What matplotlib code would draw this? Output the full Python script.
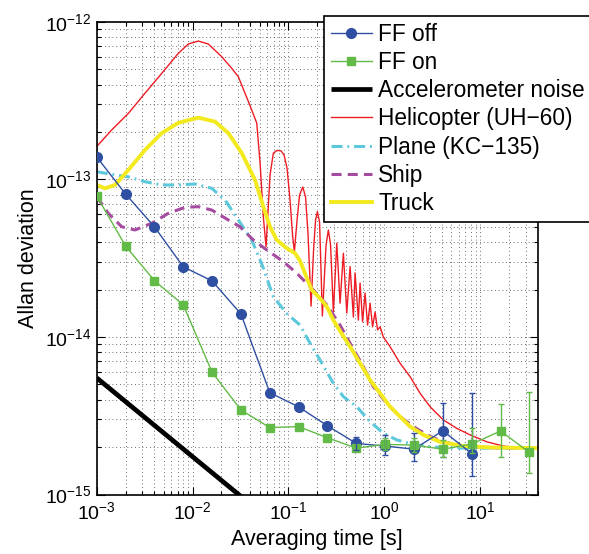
import numpy as np
import matplotlib
matplotlib.use("Agg")
import matplotlib.pyplot as plt
from matplotlib.ticker import LogLocator, NullFormatter, FixedLocator

plt.rcParams['font.family'] = ['Liberation Sans', 'DejaVu Sans']
plt.rcParams['mathtext.fontset'] = 'custom'
plt.rcParams['mathtext.rm'] = 'Liberation Sans'
plt.rcParams['mathtext.it'] = 'Liberation Sans:italic'
plt.rcParams['mathtext.bf'] = 'Liberation Sans:bold'

# ---- measured Allan deviation, feed-forward off / on ----
ff_tau = [0.001, 0.002, 0.004, 0.008, 0.016, 0.032, 0.064, 0.128,
          0.256, 0.512, 1.024, 2.048, 4.096, 8.192, 16.384, 32.768]
ff_off = [1.39e-13, 8.09e-14, 5.01e-14, 2.79e-14, 2.27e-14, 1.40e-14,
          4.43e-15, 3.60e-15, 2.73e-15, 2.11e-15, 2.03e-15, 1.94e-15,
          2.54e-15, 1.82e-15]
ff_on = [7.86e-14, 3.78e-14, 2.28e-14, 1.60e-14, 5.97e-15, 3.44e-15,
         2.66e-15, 2.70e-15, 2.29e-15, 1.97e-15, 2.08e-15, 2.06e-15,
         1.94e-15, 2.09e-15, 2.53e-15, 1.85e-15]

# confidence intervals on the long-tau points
ff_off_err_first = 9
ff_off_err_low = [1.92e-15, 1.78e-15, 1.64e-15, 1.74e-15, 1.32e-15]
ff_off_err_high = [2.33e-15, 2.37e-15, 2.45e-15, 3.79e-15, 4.39e-15]
ff_on_err_first = 10
ff_on_err_low = [1.92e-15, 1.87e-15, 1.72e-15, 1.83e-15, 1.74e-15, 1.36e-15]
ff_on_err_high = [2.27e-15, 2.27e-15, 2.22e-15, 2.63e-15, 3.76e-15, 4.50e-15]

# ---- accelerometer noise floor (white, tau^-1/2) ----
accel_tau = [1e-3, 1e-1]
accel_adev = [5.5e-15, 5.5e-16]

# ---- predicted Allan deviation on moving platforms ----
heli_tau = [1.0e-3, 1.43e-3, 2.14e-3, 3.19e-3, 4.77e-3, 7.11e-3, 9.04e-3,
            1.149e-2, 1.462e-2, 2.017e-2, 2.566e-2, 3.006e-2, 3.53e-2,
            4.15e-2, 4.68e-2, 5.07e-2, 5.48e-2, 5.85e-2, 6.44e-2, 6.97e-2,
            7.62e-2, 8.39e-2, 9.02e-2, 9.69e-2, 0.1041, 0.1106, 0.1155,
            0.1233, 0.1309, 0.1414, 0.1512, 0.1606, 0.1726, 0.1833, 0.1923,
            0.2008, 0.2117, 0.2264, 0.2475, 0.2616, 0.2758, 0.2950, 0.3200,
            0.3465, 0.3751, 0.4070, 0.4406, 0.4770, 0.4969, 0.5379, 0.5602,
            0.5950, 0.6318, 0.6710, 0.7126, 0.7568, 0.8035, 0.8533, 0.9063,
            0.981, 1.152, 1.466, 1.864, 2.370, 3.013, 4.15, 5.73, 7.88,
            11.78, 17.55, 26.2, 40.0]
heli_adev = [1.62e-13, 2.06e-13, 2.63e-13, 3.53e-13, 4.72e-13, 6.33e-13,
             7.25e-13, 7.57e-13, 7.25e-13, 6.02e-13, 5.08e-13, 4.49e-13,
             3.53e-13, 2.76e-13, 2.28e-13, 1.27e-13, 5.80e-14, 3.74e-14,
             1.07e-13, 1.47e-13, 1.53e-13, 1.52e-13, 1.43e-13, 1.18e-13,
             7.41e-14, 4.44e-14, 3.47e-14, 5.53e-14, 7.97e-14, 8.96e-14,
             7.74e-14, 4.44e-14, 1.57e-14, 3.57e-14, 5.53e-14, 6.25e-14,
             5.37e-14, 1.36e-14, 3.84e-14, 4.78e-14, 3.84e-14, 1.44e-14,
             3.94e-14, 1.64e-14, 3.40e-14, 1.42e-14, 2.80e-14, 1.34e-14,
             2.55e-14, 1.28e-14, 2.20e-14, 1.25e-14, 1.90e-14, 1.19e-14,
             1.64e-14, 1.16e-14, 1.44e-14, 1.11e-14, 1.16e-14, 1.00e-14,
             8.68e-15, 6.81e-15, 5.60e-15, 4.39e-15, 3.61e-15, 2.97e-15,
             2.63e-15, 2.39e-15, 2.16e-15, 2.03e-15, 1.98e-15, 1.97e-15]

plane_tau = [1.0e-3, 1.552e-3, 2.14e-3, 3.19e-3, 4.77e-3, 7.11e-3,
             1.062e-2, 1.586e-2, 2.184e-2, 3.006e-2, 4.15e-2, 5.48e-2,
             6.97e-2, 9.62e-2, 0.1325, 0.1685, 0.2142, 0.2950, 0.3751,
             0.5176, 0.7126, 0.981, 1.354, 2.017, 3.013, 4.87, 40.0]
plane_adev = [1.12e-13, 1.07e-13, 1.04e-13, 9.68e-14, 9.23e-14, 9.23e-14,
              9.36e-14, 8.79e-14, 7.41e-14, 5.53e-14, 4.13e-14, 2.74e-14,
              1.80e-14, 1.41e-14, 1.19e-14, 9.12e-15, 7.14e-15, 5.08e-15,
              4.18e-15, 3.61e-15, 2.90e-15, 2.45e-15, 2.22e-15, 2.08e-15,
              2.01e-15, 1.97e-15, 1.97e-15]

ship_tau = [1.0e-3, 1.321e-3, 1.824e-3, 2.51e-3, 3.75e-3, 5.59e-3, 8.35e-3,
            1.149e-2, 1.586e-2, 2.364e-2, 3.13e-2, 4.31e-2, 5.95e-2,
            8.87e-2, 0.1224, 0.1824, 0.2517, 0.3465, 0.4406, 0.6066, 0.7714,
            1.064, 1.466, 2.017, 2.784, 4.15, 6.71, 12.75, 40.0]
ship_adev = [7.78e-14, 6.10e-14, 5.01e-14, 4.78e-14, 5.27e-14, 6.10e-14,
             6.66e-14, 6.72e-14, 6.40e-14, 5.53e-14, 5.01e-14, 4.13e-14,
             3.57e-14, 3.01e-14, 2.54e-14, 1.99e-14, 1.60e-14, 1.19e-14,
             9.12e-15, 6.48e-15, 4.83e-15, 3.79e-15, 3.12e-15, 2.70e-15,
             2.39e-15, 2.16e-15, 2.03e-15, 1.98e-15, 1.97e-15]

truck_tau = [1.0e-3, 1.221e-3, 1.552e-3, 2.14e-3, 3.19e-3, 4.77e-3, 7.11e-3,
             1.149e-2, 1.717e-2, 2.364e-2, 3.264e-2, 4.49e-2, 5.48e-2,
             6.44e-2, 7.57e-2, 9.62e-2, 0.1175, 0.1325, 0.1556, 0.1755,
             0.2142, 0.2517, 0.2950, 0.3465, 0.4406, 0.5602, 0.7126, 0.9063,
             1.152, 1.466, 1.864, 2.566, 3.83, 6.71, 12.75, 40.0]
truck_adev = [9.23e-14, 8.79e-14, 9.23e-14, 1.15e-13, 1.54e-13, 1.97e-13,
              2.29e-13, 2.47e-13, 2.33e-13, 1.97e-13, 1.47e-13, 9.93e-14,
              6.72e-14, 5.01e-14, 4.13e-14, 3.66e-14, 3.40e-14, 3.04e-14,
              2.37e-14, 1.99e-14, 1.76e-14, 1.56e-14, 1.28e-14, 1.09e-14,
              8.68e-15, 6.81e-15, 5.33e-15, 4.39e-15, 3.61e-15, 3.12e-15,
              2.70e-15, 2.39e-15, 2.16e-15, 2.03e-15, 1.99e-15, 1.97e-15]

labels = ['FF off', 'FF on', 'Accelerometer noise', 'Helicopter (UH\u221260)',
          'Plane (KC\u2212135)', 'Ship', 'Truck']

x_ticks = [1e-3, 1e-2, 1e-1, 1e0, 1e1]
y_ticks = [1e-15, 1e-14, 1e-13, 1e-12]

c_off = '#2F4FA2'
c_on = '#62BB46'
c_heli = '#EE1C24'
c_plane = '#5CC8DC'
c_ship = '#A64CA0'
c_truck = '#F2EA1F'

fig = plt.figure(figsize=(5.89, 5.54), dpi=100)
ax = fig.add_axes([0.1642, 0.1074, 0.7487, 0.8529])
ax.set_xscale('log')
ax.set_yscale('log')

off_tau = np.array(ff_tau[:len(ff_off)])
on_tau = np.array(ff_tau[:len(ff_on)])
off_y = np.array(ff_off)
on_y = np.array(ff_on)

ax.plot(off_tau, off_y, '-o', color=c_off, lw=1.0, ms=7,
        mec=c_off, mfc=c_off, label=labels[0], zorder=3)
ax.plot(on_tau, on_y, '-s', color=c_on, lw=1.0, ms=5.5,
        mec=c_on, mfc=c_on, label=labels[1], zorder=3)

i0 = ff_off_err_first
ax.errorbar(off_tau[i0:], off_y[i0:],
            yerr=[off_y[i0:] - np.array(ff_off_err_low),
                  np.array(ff_off_err_high) - off_y[i0:]],
            fmt='none', ecolor=c_off, elinewidth=1.0, capsize=2, zorder=3)
i1 = ff_on_err_first
ax.errorbar(on_tau[i1:], on_y[i1:],
            yerr=[on_y[i1:] - np.array(ff_on_err_low),
                  np.array(ff_on_err_high) - on_y[i1:]],
            fmt='none', ecolor=c_on, elinewidth=1.0, capsize=2, zorder=3)

ax.plot(accel_tau, accel_adev, color='black', lw=3.4, label=labels[2],
        solid_capstyle='butt', zorder=2)
ax.plot(heli_tau, heli_adev, color=c_heli, lw=1.0, label=labels[3], zorder=2)
ax.plot(plane_tau, plane_adev, color=c_plane, lw=2.2,
        linestyle=(0, (3.6, 1.6, 0.6, 1.6)), label=labels[4], zorder=2)
ax.plot(ship_tau, ship_adev, color=c_ship, lw=2.2,
        linestyle=(0, (3.3, 2.0)), label=labels[5], zorder=2)
ax.plot(truck_tau, truck_adev, color=c_truck, lw=2.8, label=labels[6], zorder=2)

ax.set_xlim(1e-3, 40)
ax.set_ylim(1e-15, 1e-12)

ax.xaxis.set_major_locator(FixedLocator(x_ticks))
ax.yaxis.set_major_locator(FixedLocator(y_ticks))
for axis in (ax.xaxis, ax.yaxis):
    axis.set_minor_locator(LogLocator(base=10, subs=np.arange(2, 10), numticks=50))
    axis.set_minor_formatter(NullFormatter())

grid_kw = dict(linestyle=(0, (1, 3.5)), color='0.25', linewidth=0.6)
ax.grid(True, which='major', **grid_kw)
ax.grid(True, which='minor', **grid_kw)
ax.set_axisbelow(True)

ax.tick_params(which='both', direction='in', top=True, right=True,
               labelsize=14, width=0.8)
ax.tick_params(which='major', length=6)
ax.tick_params(which='minor', length=3)
ax.tick_params(axis='x', pad=5)
ax.tick_params(axis='y', pad=4)
for s in ax.spines.values():
    s.set_linewidth(1.2)

ax.set_xlabel('Averaging time [s]', fontsize=15.5, labelpad=4)
ax.set_ylabel('Allan deviation', fontsize=15.5, labelpad=4)

leg = ax.legend(loc='upper left', bbox_to_anchor=(0.5506, 0.9711),
                bbox_transform=fig.transFigure, fontsize=16.3,
                frameon=True, fancybox=False, framealpha=1,
                edgecolor='black', borderpad=0.3, labelspacing=0.23,
                handlelength=1.8, handletextpad=0.28, borderaxespad=0)
leg.get_frame().set_linewidth(1.2)
leg.set_zorder(5)

fig.savefig('out.png', dpi=100)
